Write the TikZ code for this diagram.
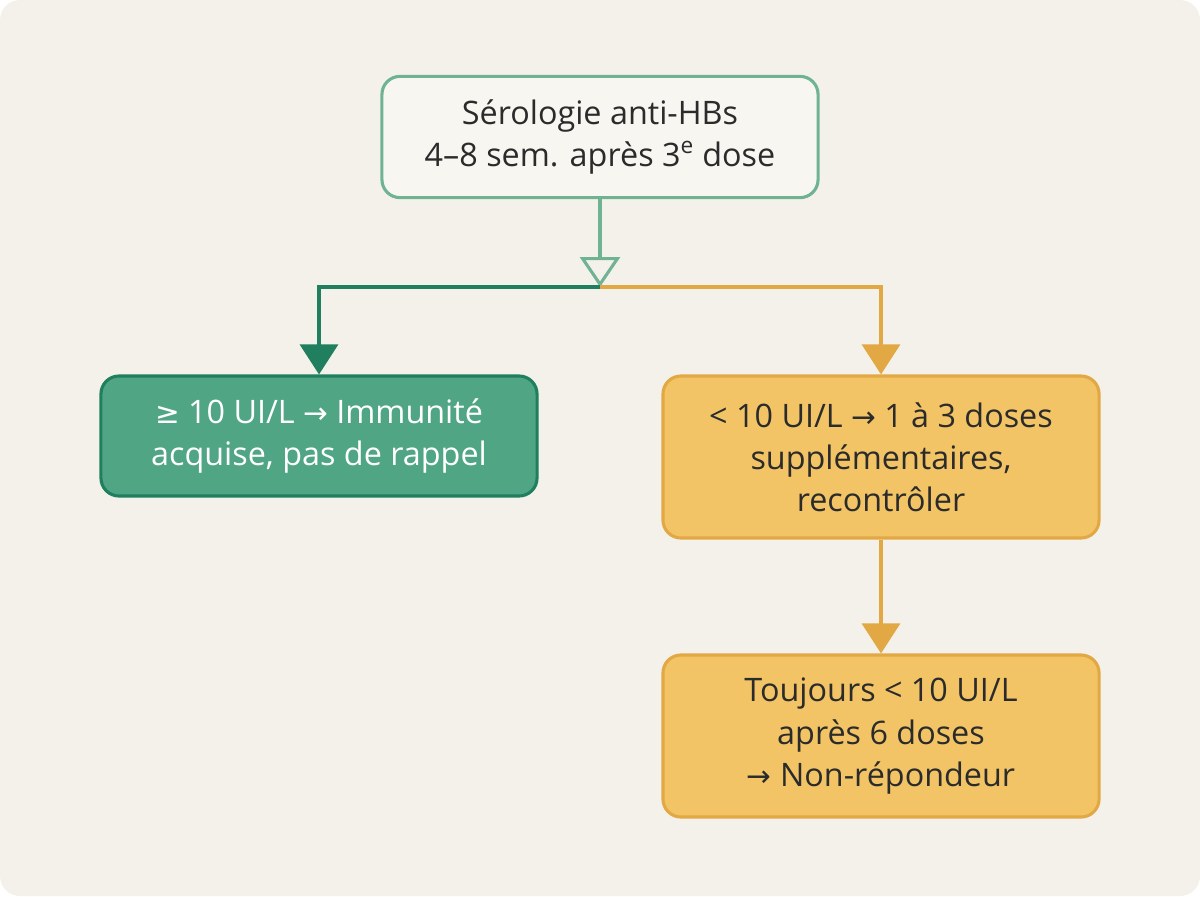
\documentclass[tikz,border=0pt]{standalone}
\usepackage{fontspec}
\setmainfont{Open Sans}
\newfontfamily\symfont{DejaVu Sans}
\usetikzlibrary{arrows.meta}
\definecolor{paper}{HTML}{F4F1EA}
\definecolor{topfill}{HTML}{F8F6F1}
\definecolor{topline}{HTML}{6FB393}
\definecolor{okfill}{HTML}{50A684}
\definecolor{okline}{HTML}{1F7F5E}
\definecolor{lowfill}{HTML}{F2C466}
\definecolor{lowline}{HTML}{E2A843}
\definecolor{txt}{HTML}{2B2B2B}
\newcommand{\sym}[1]{{\symfont\fontsize{21}{30}\selectfont #1}}
\newcommand{\pgfdefaultlinewidth}{2.2pt}

\begin{document}
\begin{tikzpicture}[x=0.025cm, y=-0.025cm, line width = \pgfdefaultlinewidth,
                    box/.style = {draw, rounded corners = 0.45cm, align = center, inner sep = 0pt,
                                   minimum width = 10.9cm, font = \fontsize{23}{30}\selectfont, text = txt},
                    start/.style = {box, fill = topfill, draw = topline, minimum height = 3.03cm},
                    good/.style = {box, fill = okfill, draw = okline, text = white, minimum height = 3cm},
                    low/.style = {box, fill = lowfill, draw = lowline, minimum height = 4.05cm}]

    \fill[paper, rounded corners = 0.5cm] (0,0) rectangle (1200,896);

    \node[start] (sero) at (600,137) {Sérologie anti-HBs\\4--8 sem. après 3\textsuperscript{e} dose};
    \node[good] (immun) at (319,436) {\sym{≥} 10 UI/L \sym{→} Immunité\\acquise, pas de rappel};
    \node[low] (rappel) at (881,457) {< 10 UI/L \sym{→} 1 à 3 doses\\supplémentaires,\\recontrôler};
    \node[low] (nonrep) at (881,736) {Toujours < 10 UI/L\\après 6 doses\\\sym{→} Non-répondeur};

    \coordinate (split) at (600,287);

    \draw[topline, -{Triangle[open, length = 0.75cm, width = 1cm]}] (sero) -- (split);
    \draw[okline, -{Triangle[length = 0.75cm, width = 0.95cm]}] (split) -| (immun.north);
    \draw[lowline, -{Triangle[length = 0.75cm, width = 0.95cm]}] (split) -| (rappel.north);
    \draw[lowline, -{Triangle[length = 0.75cm, width = 0.95cm]}] (rappel) -- (nonrep);
\end{tikzpicture}
\end{document}
